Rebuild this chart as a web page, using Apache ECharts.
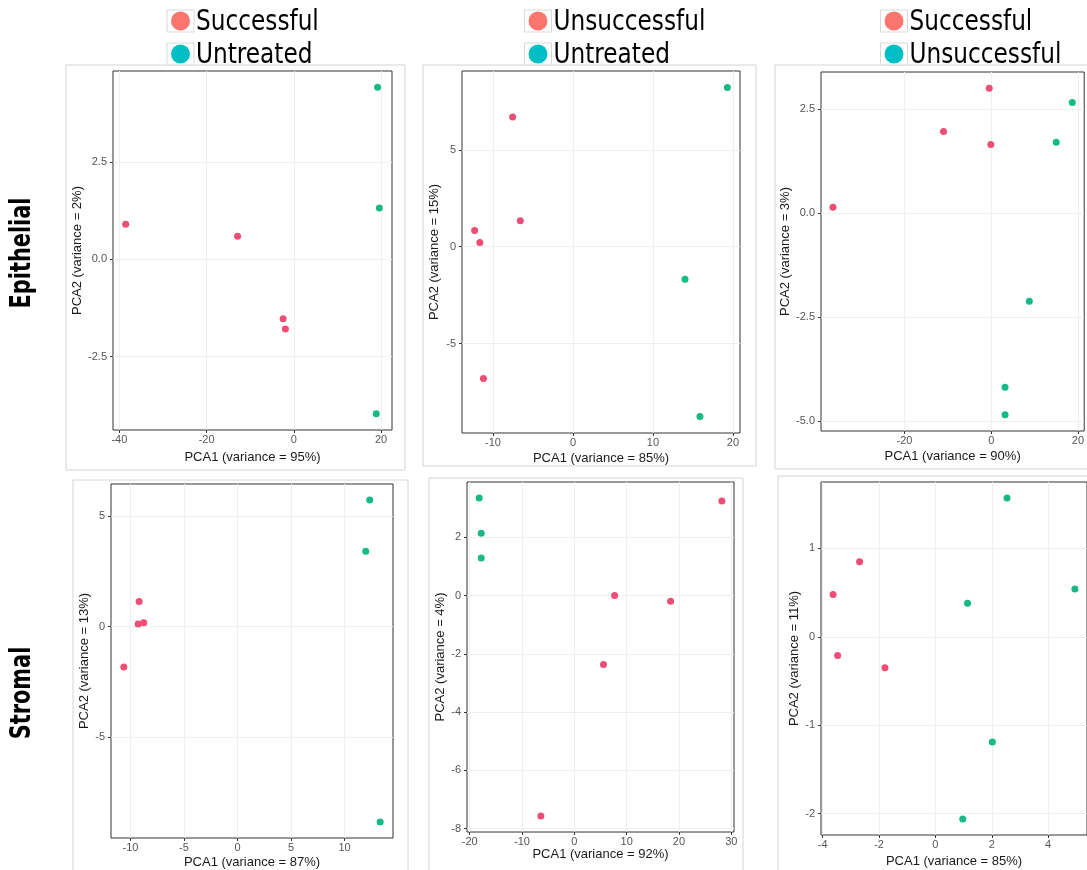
<!DOCTYPE html>
<html>
<head>
<meta charset="utf-8">
<title>PCA panels</title>
<script src="https://cdn.jsdelivr.net/npm/echarts@6/dist/echarts.min.js"></script>
<style>
  html, body { margin: 0; padding: 0; background: #fff; }
  #main { width: 1087px; height: 870px; }
</style>
</head>
<body>
<div id="main"></div>
<script>
// --- data ---
// epithelial
var epiSuccA = [[-38.55, 0.90], [-12.9, 0.59], [-2.45, -1.53], [-1.93, -1.79]];
var epiUntrA = [[19.2, 4.42], [19.6, 1.32], [18.9, -3.97]];
var epiUnsB  = [[-7.55, 6.69], [-6.59, 1.34], [-12.3, 0.84], [-11.65, 0.22], [-11.2, -6.81]];
var epiUntrB = [[19.3, 8.22], [14.0, -1.68], [15.87, -8.77]];
var epiSuccC = [[-0.45, 3.0], [-11.0, 1.96], [-0.08, 1.65], [-36.5, 0.14]];
var epiUnsC  = [[18.7, 2.66], [15.0, 1.70], [8.8, -2.12], [3.2, -4.19], [3.2, -4.85]];
// stromal
var strSuccA = [[-9.19, 1.13], [-9.28, 0.12], [-8.76, 0.18], [-10.62, -1.82]];
var strUntrA = [[12.35, 5.71], [11.98, 3.40], [13.33, -8.81]];
var strUnsB  = [[28.2, 3.24], [7.7, 0.0], [18.4, -0.2], [5.57, -2.37], [-6.4, -7.57]];
var strUntrB = [[-18.2, 3.35], [-17.8, 2.14], [-17.8, 1.29]];
var strSuccC = [[-2.69, 0.85], [-3.63, 0.48], [-3.47, -0.21], [-1.79, -0.35]];
var strUnsC  = [[2.54, 1.57], [1.14, 0.38], [4.95, 0.54], [2.02, -1.19], [0.97, -2.06]];

var legendLabels = [['Successful', 'Untreated'], ['Unsuccessful', 'Untreated'], ['Successful', 'Unsuccessful']];
var rowLabels = ['Epithelial', 'Stromal'];
var pc1Var = [95, 85, 90, 87, 92, 85];
var pc2Var = [2, 15, 3, 13, 4, 11];
var xTicks = [[-40, -20, 0, 20], [-10, 0, 10, 20], [-20, 0, 20],
              [-10, -5, 0, 5, 10], [-20, -10, 0, 10, 20, 30], [-4, -2, 0, 2, 4]];
var yTicks = [[-2.5, 0, 2.5], [-5, 0, 5], [-5, -2.5, 0, 2.5],
              [-5, 0, 5], [-8, -6, -4, -2, 0, 2], [-2, -1, 0, 1]];
var yDigits = [1, 0, 1, 0, 0, 0];
var panelData = [[epiSuccA, epiUntrA], [epiUnsB, epiUntrB], [epiSuccC, epiUnsC],
                 [strSuccA, strUntrA], [strUnsB, strUntrB], [strSuccC, strUnsC]];

// --- layout (pixels) ---
var boxes = [
    {l: 113, t: 71, w: 279, h: 359, xg: 21, yg: 27, frame: [66, 65, 339, 405]},
    {l: 462, t: 71, w: 278, h: 362, xg: 19, yg: 21, frame: [423, 65, 333, 401]},
    {l: 821, t: 72, w: 267, h: 359, xg: 19, yg: 29, frame: [775, 65, 330, 404]},
    {l: 111, t: 484, w: 282, h: 354, xg: 18, yg: 19, frame: [73, 480, 335, 400]},
    {l: 467, t: 482, w: 267, h: 350, xg: 16, yg: 18, frame: [429, 478, 314, 400]},
    {l: 821, t: 482, w: 271, h: 353, xg: 20, yg: 19, frame: [778, 476, 320, 400]}
];
var pink = '#EE4D75', green = '#17B987';
var legPink = '#F8766D', legTeal = '#00BFC4';
var legendX = [180.5, 538, 894];
var tickFont = 'Liberation Sans, Arial, sans-serif';
var bigFont = '"Liberation Sans Narrow", "DejaVu Sans Condensed", sans-serif';

function extent(list, dim) {
    var lo = Infinity, hi = -Infinity;
    list.forEach(function (s) {
        s.forEach(function (p) { lo = Math.min(lo, p[dim]); hi = Math.max(hi, p[dim]); });
    });
    var pad = (hi - lo) * 0.05; // ggplot default expansion
    return [lo - pad, hi + pad];
}

var chart = echarts.init(document.getElementById('main'));
var grids = [], xAxes = [], yAxes = [], series = [], graphics = [];

boxes.forEach(function (b, i) {
    grids.push({
        left: b.l, top: b.t, width: b.w, height: b.h,
        show: true, borderColor: '#333', borderWidth: 1, backgroundColor: 'transparent'
    });
    var xe = extent(panelData[i], 0), ye = extent(panelData[i], 1);
    xAxes.push({
        type: 'value', gridIndex: i, min: xe[0], max: xe[1],
        name: 'PCA1 (variance = ' + pc1Var[i] + '%)',
        nameLocation: 'middle', nameGap: b.xg,
        nameTextStyle: {fontSize: 13, color: '#1a1a1a', fontFamily: tickFont},
        axisLine: {show: false, onZero: false},
        axisTick: {show: true, length: 3, customValues: xTicks[i], lineStyle: {color: '#333'}},
        axisLabel: {customValues: xTicks[i], margin: 4, fontSize: 11, color: '#555', fontFamily: tickFont},
        splitLine: {show: true, lineStyle: {color: '#efefef', width: 1}}
    });
    yAxes.push({
        type: 'value', gridIndex: i, min: ye[0], max: ye[1],
        name: 'PCA2 (variance = ' + pc2Var[i] + '%)',
        nameLocation: 'middle', nameGap: b.yg,
        nameTextStyle: {fontSize: 13, color: '#1a1a1a', fontFamily: tickFont},
        axisLine: {show: false, onZero: false},
        axisTick: {show: true, length: 3, customValues: yTicks[i], lineStyle: {color: '#333'}},
        axisLabel: {
            customValues: yTicks[i], margin: 6, fontSize: 11, color: '#555', fontFamily: tickFont,
            formatter: (function (d) { return function (v) { return v.toFixed(d); }; })(yDigits[i])
        },
        splitLine: {show: true, lineStyle: {color: '#efefef', width: 1}}
    });
    [pink, green].forEach(function (c, k) {
        series.push({
            type: 'scatter', xAxisIndex: i, yAxisIndex: i,
            data: panelData[i][k], symbolSize: 7,
            itemStyle: {color: c, opacity: 1},
            silent: true
        });
    });
    // light outer frame around each sub-image
    graphics.push({
        type: 'rect', z: -10, silent: true,
        shape: {x: b.frame[0], y: b.frame[1], width: b.frame[2], height: b.frame[3]},
        style: {fill: 'none', stroke: '#d4d4d4', lineWidth: 1}
    });
});

// legends above the top row
legendLabels.forEach(function (pair, j) {
    var cx = legendX[j];
    [[pair[0], legPink, 21], [pair[1], legTeal, 54]].forEach(function (it) {
        graphics.push({
            type: 'rect', silent: true,
            shape: {x: cx - 13.5, y: it[2] - 11, width: 27, height: 22},
            style: {fill: '#fff', stroke: '#d9d9d9', lineWidth: 1}
        });
        graphics.push({
            type: 'circle', silent: true,
            shape: {cx: cx, cy: it[2], r: 9.5},
            style: {fill: it[1]}
        });
        graphics.push({
            type: 'text', silent: true, x: cx + 15.5, y: it[2] + 1, scaleX: 0.89,
            style: {text: it[0], fill: '#000', font: '29px ' + bigFont, align: 'left', verticalAlign: 'middle'}
        });
    });
});

// row labels
[[22, 253], [22, 693]].forEach(function (p, r) {
    graphics.push({
        type: 'text', silent: true, x: p[0], y: p[1], rotation: Math.PI / 2, scaleX: 0.8,
        style: {text: rowLabels[r], fill: '#000', font: 'bold 29px ' + bigFont, align: 'center', verticalAlign: 'middle'}
    });
});

chart.setOption({
    animation: false,
    backgroundColor: '#fff',
    grid: grids,
    xAxis: xAxes,
    yAxis: yAxes,
    series: series,
    graphic: graphics
});
</script>
</body>
</html>
